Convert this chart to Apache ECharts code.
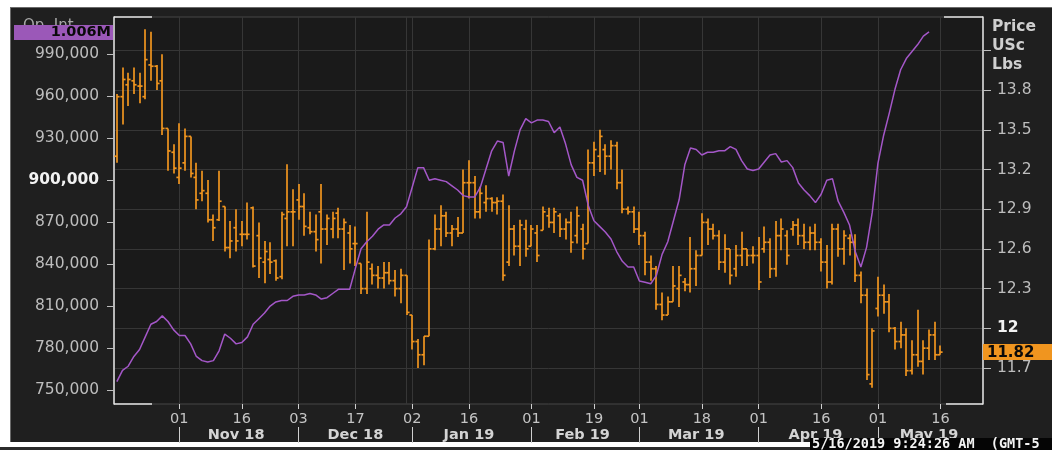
<!DOCTYPE html>
<html><head><meta charset="utf-8">
<script src="https://cdn.jsdelivr.net/npm/echarts/dist/echarts.min.js"></script>
<style>
html,body{margin:0;padding:0;background:#fff;width:1052px;height:450px;overflow:hidden}
#panel{position:absolute;left:10px;top:7px;width:1042px;height:435px;background:#1f1f1f;border-left:1px solid #6a6a6a;border-top:1px solid #6a6a6a;box-sizing:border-box}
#bot{position:absolute;left:0;top:447px;width:1052px;height:3px;background:#2b2b2b}
#chart{position:absolute;left:0;top:0;width:1052px;height:450px}
</style></head><body>
<div id="panel"></div><div id="bot"></div><div id="chart"></div>
<script>
// ---- DATA ----
const dates = [
'2018-10-17','2018-10-18','2018-10-19','2018-10-22','2018-10-23','2018-10-24','2018-10-25','2018-10-26','2018-10-29','2018-10-30','2018-10-31',
'2018-11-01','2018-11-02','2018-11-05','2018-11-06','2018-11-07','2018-11-08','2018-11-09','2018-11-12','2018-11-13','2018-11-14','2018-11-15','2018-11-16','2018-11-19','2018-11-20','2018-11-21','2018-11-23','2018-11-26','2018-11-27','2018-11-28','2018-11-29','2018-11-30',
'2018-12-03','2018-12-04','2018-12-05','2018-12-06','2018-12-07','2018-12-10','2018-12-11','2018-12-12','2018-12-13','2018-12-14','2018-12-17','2018-12-18','2018-12-19','2018-12-20','2018-12-21','2018-12-24','2018-12-26','2018-12-27','2018-12-28','2018-12-31',
'2019-01-02','2019-01-03','2019-01-04','2019-01-07','2019-01-08','2019-01-09','2019-01-10','2019-01-11','2019-01-14','2019-01-15','2019-01-16','2019-01-17','2019-01-18','2019-01-22','2019-01-23','2019-01-24','2019-01-25','2019-01-28','2019-01-29','2019-01-30','2019-01-31',
'2019-02-01','2019-02-04','2019-02-05','2019-02-06','2019-02-07','2019-02-08','2019-02-11','2019-02-12','2019-02-13','2019-02-14','2019-02-15','2019-02-19','2019-02-20','2019-02-21','2019-02-22','2019-02-25','2019-02-26','2019-02-27','2019-02-28',
'2019-03-01','2019-03-04','2019-03-05','2019-03-06','2019-03-07','2019-03-08','2019-03-11','2019-03-12','2019-03-13','2019-03-14','2019-03-15','2019-03-18','2019-03-19','2019-03-20','2019-03-21','2019-03-22','2019-03-25','2019-03-26','2019-03-27','2019-03-28','2019-03-29',
'2019-04-01','2019-04-02','2019-04-03','2019-04-04','2019-04-05','2019-04-08','2019-04-09','2019-04-10','2019-04-11','2019-04-12','2019-04-15','2019-04-16','2019-04-17','2019-04-18','2019-04-22','2019-04-23','2019-04-24','2019-04-25','2019-04-26','2019-04-29','2019-04-30',
'2019-05-01','2019-05-02','2019-05-03','2019-05-06','2019-05-07','2019-05-08','2019-05-09','2019-05-10','2019-05-13','2019-05-14','2019-05-15','2019-05-16',
'2019-05-17','2019-05-20','2019-05-21','2019-05-22','2019-05-23','2019-05-24','2019-05-28'];

const priceOpen = [13.30,13.75,13.84,13.87,13.83,13.75,13.99,13.98,13.87,13.51,
13.33,13.14,13.25,13.45,13.14,13.02,13.02,12.82,12.82,12.92,
12.61,12.76,12.71,12.71,12.91,12.70,12.50,12.52,12.51,12.39,
12.83,12.88,12.97,12.92,12.76,12.73,12.88,12.75,12.75,12.87,
12.75,12.72,12.64,12.49,12.30,12.45,12.40,12.38,12.42,12.36,
12.30,12.40,12.10,11.90,11.80,11.94,12.60,12.75,12.85,12.72,
12.75,12.72,13.10,13.10,12.88,12.95,12.98,12.95,12.96,12.50,
12.75,12.62,12.75,12.62,12.72,12.74,12.85,12.80,12.85,12.75,
12.80,12.70,12.75,12.64,13.25,13.30,13.35,13.30,13.38,13.10,
12.90,12.88,12.75,12.70,12.50,12.45,12.18,12.10,12.20,12.30,
12.35,12.33,12.45,12.55,12.80,12.75,12.70,12.50,12.60,12.45,
12.55,12.60,12.55,12.55,12.60,12.65,12.45,12.70,12.70,12.75,
12.78,12.70,12.65,12.72,12.65,12.50,12.35,12.75,12.60,12.68,
12.65,12.40,12.25,11.58,12.15,12.25,12.20,12.00,11.90,11.95,
11.68,11.80,11.75,11.85,11.95,11.80];
const priceHigh = [13.77,13.97,13.93,13.97,13.93,14.26,14.24,13.99,14.07,13.51,
13.39,13.55,13.51,13.45,13.25,13.19,13.12,12.86,13.19,12.92,
12.81,12.90,12.81,12.95,12.92,12.80,12.66,12.65,12.52,12.88,
13.24,13.05,13.09,13.02,12.88,12.86,13.09,12.86,12.88,12.91,
12.83,12.78,12.77,12.49,12.88,12.49,12.47,12.50,12.50,12.44,
12.45,12.40,12.10,11.92,11.94,12.67,12.86,12.93,12.88,12.78,
12.84,13.20,13.27,13.15,13.07,13.08,12.99,12.99,13.01,12.93,
12.78,12.82,12.82,12.78,12.78,12.92,12.91,12.91,12.87,12.83,
12.88,12.92,12.79,13.35,13.41,13.50,13.39,13.42,13.41,13.20,
12.92,12.92,12.88,12.73,12.55,12.47,12.27,12.24,12.47,12.47,
12.38,12.69,12.59,12.87,12.83,12.79,12.74,12.71,12.60,12.63,
12.73,12.60,12.62,12.69,12.77,12.68,12.81,12.83,12.74,12.81,
12.83,12.79,12.77,12.79,12.68,12.63,12.79,12.79,12.74,12.71,
12.71,12.43,12.30,12.00,12.39,12.33,12.26,12.01,12.05,12.00,
11.91,12.14,11.91,11.99,12.05,11.87];
const priceLow = [13.25,13.54,13.68,13.77,13.70,13.73,13.87,13.80,13.46,13.19,
13.17,13.09,13.19,13.14,12.90,12.96,12.80,12.66,12.81,12.58,
12.53,12.58,12.62,12.67,12.46,12.38,12.34,12.41,12.36,12.37,
12.62,12.62,12.82,12.70,12.71,12.58,12.49,12.63,12.68,12.68,
12.44,12.49,12.47,12.26,12.26,12.33,12.30,12.30,12.33,12.24,
12.19,12.10,11.84,11.70,11.72,11.94,12.59,12.62,12.69,12.62,
12.69,12.72,12.98,12.83,12.83,12.88,12.88,12.86,12.36,12.47,
12.55,12.47,12.54,12.62,12.50,12.74,12.76,12.72,12.69,12.67,
12.57,12.64,12.52,12.64,13.15,13.18,13.16,13.20,13.05,12.87,
12.86,12.72,12.63,12.40,12.36,12.14,12.06,12.10,12.20,12.16,
12.28,12.27,12.32,12.55,12.63,12.67,12.44,12.42,12.33,12.39,
12.47,12.47,12.49,12.29,12.57,12.38,12.39,12.59,12.48,12.70,
12.63,12.60,12.59,12.59,12.43,12.30,12.33,12.54,12.48,12.55,
12.35,12.19,11.61,11.55,12.09,12.11,11.97,11.84,11.85,11.64,
11.65,11.71,11.65,11.76,11.76,11.80];
const priceClose = [13.75,13.88,13.88,13.84,13.83,14.03,13.98,13.85,13.51,13.34,
13.21,13.21,13.45,13.17,12.97,13.04,12.82,12.76,12.96,12.61,
12.66,12.66,12.71,12.71,12.47,12.53,12.58,12.50,12.38,12.86,
12.88,12.88,12.92,12.77,12.73,12.67,12.75,12.83,12.83,12.75,
12.80,12.60,12.64,12.30,12.50,12.40,12.38,12.42,12.36,12.30,
12.40,12.12,11.90,11.80,11.94,12.60,12.75,12.85,12.72,12.75,
12.72,13.10,13.10,12.88,13.02,12.98,12.95,12.96,12.40,12.75,
12.62,12.78,12.60,12.75,12.55,12.88,12.80,12.88,12.75,12.80,
12.65,12.85,12.60,13.25,13.35,13.45,13.30,13.38,13.10,12.90,
12.88,12.75,12.70,12.50,12.45,12.18,12.10,12.20,12.32,12.40,
12.33,12.45,12.55,12.80,12.75,12.70,12.50,12.60,12.40,12.55,
12.60,12.55,12.55,12.35,12.65,12.45,12.70,12.75,12.55,12.78,
12.70,12.65,12.72,12.65,12.50,12.35,12.75,12.60,12.70,12.65,
12.40,12.25,11.65,11.98,12.25,12.20,12.00,11.90,11.95,11.68,
11.80,11.75,11.85,11.95,11.80,11.82];

// open interest, thousands of contracts
const openInterestK = [756,764,767,774,779,788,797,799,803,799,
793,789,789,783,774,771,770,771,778,790,
787,783,784,788,797,801,805,810,813,814,
814,817,818,818,819,818,815,816,819,822,
822,822,837,851,856,860,865,868,868,873,
876,881,895,909,909,900,901,900,899,896,
893,889,888,888,895,908,921,928,927,903,
921,936,944,941,943,943,942,934,938,926,
911,902,900,882,871,867,863,858,849,842,
838,838,828,827,826,832,847,856,871,886,
911,923,922,918,920,920,921,921,924,922,
914,908,907,908,913,918,919,913,914,909,
898,893,889,884,890,900,901,885,877,868,
849,838,852,877,912,932,948,965,979,987,
992,997,1003,1006];

const oiTicks = [750000,780000,810000,840000,870000,900000,930000,960000,990000];
const priceTicks = [11.7,12,12.3,12.6,12.9,13.2,13.5,13.8,14.1];
const priceLabels = [11.7,12,12.3,12.6,12.9,13.2,13.5,13.8];
const dayLabelDates = ['2018-11-01','2018-11-16','2018-12-03','2018-12-17','2019-01-02','2019-01-16','2019-02-01','2019-02-19','2019-03-01','2019-03-18','2019-04-01','2019-04-16','2019-05-01','2019-05-16'];
const extraGridDates = ['2018-12-31'];
const monthStartDates = ['2018-11-01','2018-12-03','2019-01-02','2019-02-01','2019-03-01','2019-04-01','2019-05-01'];
const monthLabelDates = ['2018-11-15','2018-12-17','2019-01-16','2019-02-14','2019-03-15','2019-04-15','2019-05-14'];
const monthNames = ['Jan','Feb','Mar','Apr','May','Jun','Jul','Aug','Sep','Oct','Nov','Dec'];
const timestampText = '5/16/2019 9:24:26 AM  (GMT-5';

// ---- CHART ----
const ORANGE = '#f0951f', PURPLE = '#a457c8';
const GL = 114, GR = 69, GT = 17, GB = 46, W = 1052, H = 450;
const chart = echarts.init(document.getElementById('chart'), null, {renderer:'canvas'});
const ohlc = priceOpen.map((o,i)=>[i, o, priceHigh[i], priceLow[i], priceClose[i]]);
const oiData = openInterestK.map(v=>v*1000);

function fmtComma(v){ return String(Math.round(v)).replace(/\B(?=(\d{3})+(?!\d))/g, ','); }

function renderOHLC(params, api){
  const i = api.value(0);
  const pO = api.coord([i, api.value(1)]);
  const pH = api.coord([i, api.value(2)]);
  const pL = api.coord([i, api.value(3)]);
  const pC = api.coord([i, api.value(4)]);
  const x = Math.round(pH[0]);
  const t = 2.6;
  const st = {stroke: ORANGE, lineWidth: 1.7};
  return {type:'group', children:[
    {type:'line', shape:{x1:x, y1:pH[1], x2:x, y2:pL[1]}, style:st},
    {type:'line', shape:{x1:x-t, y1:pO[1], x2:x, y2:pO[1]}, style:st},
    {type:'line', shape:{x1:x, y1:pC[1], x2:x+t, y2:pC[1]}, style:st}
  ]};
}

const FONT = 'DejaVu Sans';
const option = {
  animation:false,
  grid:{left:GL, right:GR, top:GT, bottom:GB, show:true, backgroundColor:'#1a1a1a', borderColor:'#474747', borderWidth:1},
  xAxis:[
    {type:'category', data:dates, boundaryGap:true, position:'bottom',
     axisLine:{show:false},
     axisTick:{show:true, alignWithLabel:true, interval:(i,v)=>dayLabelDates.includes(v), length:5, lineStyle:{color:'#cfcfcf'}},
     axisLabel:{interval:(i,v)=>dayLabelDates.includes(v), formatter:v=>v.slice(8), color:'#c4c4c4', fontSize:14.5, fontFamily:FONT, margin:8},
     splitLine:{show:true, alignWithLabel:true, interval:(i,v)=>dayLabelDates.includes(v)||extraGridDates.includes(v), lineStyle:{color:'#363636', width:1}}},
    {type:'category', data:dates, boundaryGap:true, position:'bottom', offset:23,
     axisLine:{show:false},
     axisTick:{show:true, alignWithLabel:true, interval:(i,v)=>monthStartDates.includes(v), length:16, lineStyle:{color:'#cfcfcf'}},
     axisLabel:{interval:(i,v)=>monthLabelDates.includes(v), formatter:v=>monthNames[+v.slice(5,7)-1]+' '+v.slice(2,4), color:'#d4d4d4', fontSize:14.5, fontWeight:'bold', fontFamily:FONT, margin:1},
     splitLine:{show:false}}
  ],
  yAxis:[
    {type:'value', position:'left', min:740000, max:1016700,
     axisLine:{show:true, lineStyle:{color:'#e6e6e6', width:1.5}},
     axisTick:{show:true, customValues:oiTicks, length:7, lineStyle:{color:'#bdbdbd'}},
     axisLabel:{customValues:oiTicks, margin:15, color:'#bdbdbd', fontSize:15.5, fontFamily:FONT,
       formatter:v=> v===900000 ? '{b|'+fmtComma(v)+'}' : fmtComma(v),
       rich:{b:{fontWeight:'bold', color:'#f2f2f2', fontSize:15.5, fontFamily:FONT}}},
     splitLine:{show:false}},
    {type:'value', position:'right', min:11.428, max:14.352,
     axisLine:{show:true, lineStyle:{color:'#e6e6e6', width:1.5}},
     axisTick:{show:true, customValues:priceTicks, length:8, lineStyle:{color:'#bdbdbd'}},
     axisLabel:{customValues:priceLabels, margin:14, color:'#bdbdbd', fontSize:15.5, fontFamily:FONT,
       formatter:v=> Math.abs(v-12)<1e-6 ? '{b|12}' : (+v).toFixed(1),
       rich:{b:{fontWeight:'bold', color:'#f2f2f2', fontSize:15.5, fontFamily:FONT}}},
     splitLine:{show:true, lineStyle:{color:'#363636', width:1}}}
  ],
  series:[
    {type:'custom', name:'Price', xAxisIndex:0, yAxisIndex:1, renderItem:renderOHLC, data:ohlc,
     encode:{x:0, y:[1,2,3,4]}, clip:true, z:3, silent:true},
    {type:'line', name:'Open Interest', xAxisIndex:0, yAxisIndex:0, data:oiData, showSymbol:false, symbol:'none',
     lineStyle:{color:PURPLE, width:1.5}, z:5, silent:true}
  ]
};
chart.setOption(option);

const lastOI = oiData[oiData.length-1];
const lastClose = priceClose[priceClose.length-1];
const yOI = chart.convertToPixel({yAxisIndex:0}, lastOI);
const yPx = chart.convertToPixel({yAxisIndex:1}, lastClose);
const x1 = GL, x2 = W-GR, yT = GT, yB = H-GB;
const wl = {stroke:'#e6e6e6', lineWidth:1.5};
chart.setOption({graphic:[
  {type:'line', z:60, shape:{x1:x1, y1:yT, x2:x1+38, y2:yT}, style:wl},
  {type:'line', z:60, shape:{x1:x1, y1:yB, x2:x1+38, y2:yB}, style:wl},
  {type:'line', z:60, shape:{x1:x2-39, y1:yT, x2:x2, y2:yT}, style:wl},
  {type:'line', z:60, shape:{x1:x2-37, y1:yB, x2:x2, y2:yB}, style:wl},
  {type:'text', z:60, x:23, y:19, style:{text:'Op. Int', fill:'#a8a8a8', font:'15px '+FONT}},
  {type:'rect', z:70, shape:{x:14, y:yOI-7, width:99, height:15}, style:{fill:'#9b58b8'}},
  {type:'text', z:71, x:111, y:yOI+0.5, style:{text:(lastOI/1e6).toFixed(3)+'M', fill:'#0a0a0a', font:'bold 14.5px '+FONT, align:'right', verticalAlign:'middle'}},
  {type:'rect', z:70, shape:{x:x2, y:yPx-8, width:W-x2, height:16}, style:{fill:ORANGE}},
  {type:'text', z:71, x:x2+4, y:yPx+0.5, style:{text:lastClose.toFixed(2), fill:'#0a0a0a', font:'bold 15px '+FONT, align:'left', verticalAlign:'middle'}},
  {type:'text', z:60, x:992, y:19, style:{text:'Price', fill:'#cfcfcf', font:'bold 15.5px '+FONT}},
  {type:'text', z:60, x:992, y:38, style:{text:'USc', fill:'#cfcfcf', font:'bold 15.5px '+FONT}},
  {type:'text', z:60, x:992, y:57, style:{text:'Lbs', fill:'#cfcfcf', font:'bold 15.5px '+FONT}},
  {type:'rect', z:80, shape:{x:810, y:438, width:242, height:12}, style:{fill:'#050505'}},
  {type:'text', z:81, x:812, y:444.5, style:{text:timestampText, fill:'#f4f4f4', font:'bold 13.5px DejaVu Sans Mono', verticalAlign:'middle'}}
]});
</script></body></html>
